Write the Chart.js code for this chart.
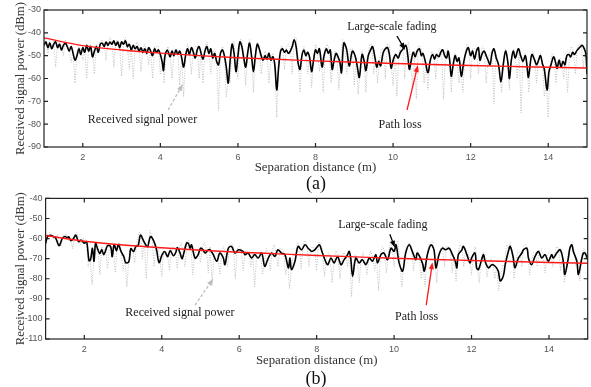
<!DOCTYPE html>
<html><head><meta charset="utf-8">
<script src="https://cdn.jsdelivr.net/npm/chart.js@4.4.1/dist/chart.umd.min.js"></script>
<style>
html,body{margin:0;padding:0;background:#fff;width:591px;height:387px;overflow:hidden;}
#ca{position:absolute;left:0;top:0;}
#cb{position:absolute;left:0;top:190px;}
.lab{position:absolute;font-family:"Liberation Serif","DejaVu Serif",serif;font-size:18px;color:#111;transform:translateX(-50%);line-height:20px;}
</style></head><body>
<canvas id="ca" width="591" height="190"></canvas>
<canvas id="cb" width="591" height="197"></canvas>
<div class="lab" style="left:316px;top:173px">(a)</div>
<div class="lab" style="left:316px;top:368px">(b)</div>
<script>
// ---------- data ----------
const xTicks = [2,4,6,8,10,12,14];
const yTicksA = [-30,-40,-50,-60,-70,-80,-90];
const yTicksB = [-40,-50,-60,-70,-80,-90,-100,-110];

// path loss (red), sampled at each metre
const plDist = [1,2,3,4,5,6,7,8,9,10,11,12,13,14,15];
const pathLossA = [-42.2,-45.6,-47.5,-48.9,-50.0,-50.9,-51.6,-52.3,-52.9,-53.4,-53.9,-54.3,-54.7,-55.1,-55.4];
const pathLossB = [-58.5,-61.3,-63.2,-64.6,-65.8,-66.8,-67.6,-68.4,-69.1,-69.8,-70.4,-70.9,-71.4,-71.9,-72.3];

// large-scale fading (black), [distance, dBm]
const fadingA = [[1.00,-45.5],[1.05,-44.0],[1.10,-46.5],[1.15,-44.5],[1.20,-47.0],[1.25,-45.0],[1.30,-44.0],[1.35,-46.5],[1.40,-45.0],[1.45,-47.5],[1.50,-45.5],[1.55,-44.5],[1.60,-46.0],[1.65,-48.0],[1.70,-46.0],[1.75,-49.0],[1.80,-52.0],[1.85,-50.0],[1.90,-47.0],[1.95,-49.5],[2.00,-46.5],[2.05,-48.5],[2.10,-45.5],[2.15,-48.0],[2.20,-46.0],[2.25,-50.5],[2.30,-48.0],[2.35,-46.0],[2.40,-48.5],[2.45,-45.0],[2.50,-44.5],[2.55,-46.0],[2.60,-44.0],[2.65,-45.5],[2.70,-44.0],[2.75,-45.0],[2.80,-43.5],[2.85,-45.5],[2.90,-44.0],[2.95,-46.5],[3.00,-44.0],[3.05,-45.0],[3.10,-43.5],[3.15,-46.0],[3.20,-45.0],[3.25,-47.5],[3.30,-45.5],[3.35,-47.0],[3.40,-46.0],[3.45,-48.0],[3.50,-46.5],[3.55,-48.5],[3.60,-47.0],[3.65,-49.0],[3.70,-46.5],[3.75,-48.0],[3.80,-50.0],[3.85,-47.0],[3.90,-48.5],[3.95,-47.5],[4.00,-49.5],[4.05,-53.0],[4.08,-56.5],[4.12,-50.0],[4.18,-47.5],[4.25,-50.5],[4.30,-48.0],[4.35,-50.0],[4.40,-47.5],[4.45,-49.5],[4.50,-48.0],[4.55,-51.0],[4.60,-55.0],[4.65,-50.0],[4.70,-47.0],[4.75,-49.5],[4.80,-46.5],[4.85,-48.5],[4.90,-51.0],[4.95,-47.5],[5.00,-46.0],[5.05,-49.0],[5.10,-51.5],[5.15,-48.0],[5.20,-46.0],[5.25,-49.0],[5.30,-47.0],[5.35,-51.0],[5.40,-49.0],[5.45,-52.5],[5.50,-54.0],[5.55,-49.0],[5.60,-47.5],[5.65,-50.0],[5.70,-55.0],[5.75,-62.0],[5.80,-52.0],[5.85,-45.0],[5.90,-49.0],[5.95,-57.0],[6.00,-50.0],[6.05,-44.0],[6.10,-46.0],[6.15,-51.0],[6.20,-55.0],[6.25,-49.0],[6.30,-44.5],[6.35,-50.0],[6.40,-57.0],[6.45,-50.0],[6.50,-45.0],[6.55,-47.0],[6.60,-50.0],[6.65,-52.0],[6.70,-50.0],[6.75,-51.5],[6.80,-49.0],[6.85,-52.0],[6.90,-50.5],[6.95,-54.0],[7.00,-65.0],[7.05,-55.0],[7.10,-48.0],[7.15,-47.0],[7.20,-48.5],[7.25,-47.5],[7.30,-49.0],[7.35,-48.0],[7.40,-46.0],[7.45,-43.0],[7.50,-46.0],[7.55,-53.0],[7.60,-56.0],[7.65,-50.0],[7.70,-47.5],[7.75,-50.0],[7.80,-48.5],[7.85,-51.0],[7.90,-57.0],[7.95,-52.0],[8.00,-47.5],[8.05,-49.0],[8.10,-47.0],[8.17,-55.0],[8.22,-50.0],[8.28,-47.0],[8.33,-49.0],[8.38,-47.5],[8.43,-56.0],[8.48,-52.0],[8.53,-49.0],[8.58,-50.5],[8.63,-53.0],[8.67,-57.5],[8.73,-44.5],[8.80,-47.0],[8.87,-54.5],[8.95,-48.0],[9.02,-50.0],[9.08,-55.0],[9.13,-59.5],[9.20,-49.5],[9.25,-52.0],[9.30,-56.5],[9.36,-50.0],[9.42,-47.5],[9.47,-46.0],[9.53,-50.5],[9.58,-55.0],[9.63,-52.5],[9.68,-54.5],[9.74,-49.0],[9.80,-47.0],[9.86,-46.5],[9.91,-50.0],[9.95,-55.5],[10.01,-51.5],[10.07,-49.5],[10.13,-51.0],[10.19,-48.5],[10.26,-47.0],[10.33,-45.5],[10.38,-50.0],[10.42,-56.0],[10.47,-52.0],[10.52,-48.5],[10.57,-50.5],[10.62,-48.0],[10.68,-47.0],[10.73,-50.0],[10.77,-49.0],[10.83,-52.5],[10.90,-57.5],[10.96,-52.0],[11.02,-49.5],[11.07,-51.5],[11.12,-49.5],[11.18,-50.5],[11.23,-48.5],[11.28,-47.5],[11.33,-50.0],[11.38,-51.0],[11.42,-48.0],[11.46,-52.0],[11.50,-59.0],[11.55,-54.0],[11.60,-50.0],[11.65,-52.5],[11.70,-51.0],[11.76,-59.0],[11.82,-53.0],[11.88,-48.5],[11.94,-46.5],[12.00,-50.0],[12.05,-48.0],[12.10,-51.5],[12.15,-48.0],[12.20,-46.5],[12.24,-52.0],[12.30,-49.0],[12.35,-48.0],[12.40,-50.0],[12.45,-52.0],[12.50,-54.0],[12.55,-49.0],[12.60,-47.0],[12.66,-51.0],[12.72,-54.0],[12.78,-61.5],[12.84,-54.0],[12.90,-48.0],[12.96,-53.0],[13.00,-60.0],[13.05,-52.0],[13.10,-48.0],[13.15,-51.0],[13.23,-47.0],[13.29,-50.0],[13.35,-52.5],[13.41,-50.0],[13.45,-54.0],[13.49,-59.5],[13.54,-53.0],[13.58,-49.5],[13.64,-51.5],[13.70,-54.0],[13.75,-52.0],[13.80,-50.0],[13.85,-53.5],[13.90,-56.0],[13.97,-65.0],[14.02,-57.0],[14.08,-53.5],[14.14,-50.5],[14.19,-53.0],[14.23,-55.5],[14.28,-52.0],[14.33,-55.0],[14.38,-52.5],[14.43,-54.0],[14.48,-50.0],[14.53,-49.5],[14.58,-50.5],[14.63,-48.5],[14.68,-49.5],[14.73,-48.0],[14.78,-47.0],[14.83,-46.0],[14.88,-45.5],[14.93,-47.0],[14.97,-49.0],[15.00,-58.0]];

const fadingB = [[1.00,-62.5],[1.05,-59.0],[1.12,-58.4],[1.20,-59.0],[1.26,-59.8],[1.35,-63.5],[1.43,-60.0],[1.50,-59.0],[1.56,-59.5],[1.60,-59.2],[1.65,-61.0],[1.72,-60.0],[1.78,-58.3],[1.85,-61.5],[1.92,-60.8],[2.00,-62.3],[2.06,-61.5],[2.12,-71.0],[2.16,-70.5],[2.21,-64.8],[2.25,-71.3],[2.29,-62.3],[2.34,-65.0],[2.40,-67.5],[2.45,-65.5],[2.50,-68.0],[2.55,-66.0],[2.60,-63.5],[2.68,-64.0],[2.72,-69.0],[2.77,-63.0],[2.83,-66.0],[2.88,-63.0],[2.95,-66.5],[3.02,-69.0],[3.07,-72.0],[3.15,-71.5],[3.20,-65.0],[3.27,-66.5],[3.33,-64.0],[3.39,-63.5],[3.45,-58.3],[3.54,-61.5],[3.63,-64.0],[3.71,-59.0],[3.80,-61.5],[3.87,-66.0],[3.93,-72.0],[4.01,-68.0],[4.08,-66.5],[4.15,-69.0],[4.22,-66.0],[4.30,-68.5],[4.36,-67.0],[4.40,-64.5],[4.47,-67.0],[4.52,-70.0],[4.56,-68.0],[4.64,-62.3],[4.69,-62.5],[4.73,-64.8],[4.77,-63.1],[4.86,-69.7],[4.94,-68.0],[5.00,-64.8],[5.06,-65.5],[5.12,-67.2],[5.20,-65.6],[5.25,-65.6],[5.33,-68.0],[5.42,-71.3],[5.50,-67.2],[5.59,-69.7],[5.63,-73.0],[5.72,-64.8],[5.80,-63.9],[5.89,-67.2],[5.98,-65.6],[6.10,-66.4],[6.15,-68.0],[6.23,-67.2],[6.32,-69.7],[6.40,-68.0],[6.49,-69.7],[6.58,-67.2],[6.66,-73.8],[6.75,-69.7],[6.84,-67.2],[6.92,-68.9],[7.00,-65.6],[7.09,-67.2],[7.18,-68.0],[7.27,-74.6],[7.31,-69.7],[7.35,-75.4],[7.44,-71.3],[7.52,-63.9],[7.61,-65.6],[7.70,-63.1],[7.78,-64.8],[7.87,-66.4],[7.95,-65.6],[8.07,-63.1],[8.11,-64.8],[8.15,-67.2],[8.28,-73.0],[8.37,-69.7],[8.45,-72.1],[8.54,-68.9],[8.63,-73.0],[8.71,-70.5],[8.80,-68.0],[8.84,-66.4],[8.88,-69.7],[8.93,-78.7],[9.01,-69.7],[9.10,-72.1],[9.18,-70.5],[9.27,-73.0],[9.36,-69.7],[9.44,-71.3],[9.53,-68.0],[9.57,-72.1],[9.66,-68.0],[9.74,-67.2],[9.83,-70.5],[9.92,-64.8],[10.00,-66.4],[10.05,-63.1],[10.13,-72.1],[10.22,-76.2],[10.30,-67.2],[10.39,-63.1],[10.47,-66.4],[10.56,-70.5],[10.60,-67.2],[10.73,-72.1],[10.78,-76.2],[10.86,-68.0],[10.95,-63.1],[11.03,-65.6],[11.08,-74.6],[11.16,-68.0],[11.25,-64.8],[11.33,-65.6],[11.42,-64.8],[11.49,-67.2],[11.58,-71.3],[11.62,-74.6],[11.66,-68.0],[11.75,-65.6],[11.79,-63.9],[11.88,-68.0],[11.96,-72.1],[12.00,-69.7],[12.09,-67.2],[12.13,-74.6],[12.18,-75.4],[12.26,-70.5],[12.31,-68.0],[12.35,-71.3],[12.44,-74.6],[12.52,-73.0],[12.61,-73.8],[12.69,-76.2],[12.74,-81.1],[12.82,-78.7],[12.87,-73.0],[12.95,-66.4],[13.00,-63.9],[13.08,-69.7],[13.12,-74.6],[13.21,-69.7],[13.30,-67.2],[13.34,-65.6],[13.43,-64.8],[13.47,-69.7],[13.55,-73.0],[13.64,-68.9],[13.73,-66.4],[13.81,-69.7],[13.90,-68.0],[13.98,-71.3],[14.07,-68.0],[14.11,-69.7],[14.20,-67.2],[14.29,-65.6],[14.37,-71.3],[14.41,-77.9],[14.50,-69.7],[14.54,-64.8],[14.59,-63.1],[14.63,-66.4],[14.72,-71.3],[14.76,-77.9],[14.85,-69.7],[14.89,-67.2],[14.93,-67.2],[15.00,-70.5]];

// received signal power (grey dotted): samples at whole tenths and at the half-tenths between them
const rxDist = [1.0,1.1,1.2,1.3,1.4,1.5,1.6,1.7,1.8,1.9,2.0,2.1,2.2,2.3,2.4,2.5,2.6,2.7,2.8,2.9,3.0,3.1,3.2,3.3,3.4,3.5,3.6,3.7,3.8,3.9,4.0,4.1,4.2,4.3,4.4,4.5,4.6,4.7,4.8,4.9,5.0,5.1,5.2,5.3,5.4,5.5,5.6,5.7,5.8,5.9,6.0,6.1,6.2,6.3,6.4,6.5,6.6,6.7,6.8,6.9,7.0,7.1,7.2,7.3,7.4,7.5,7.6,7.7,7.8,7.9,8.0,8.1,8.2,8.3,8.4,8.5,8.6,8.7,8.8,8.9,9.0,9.1,9.2,9.3,9.4,9.5,9.6,9.7,9.8,9.9,10.0,10.1,10.2,10.3,10.4,10.5,10.6,10.7,10.8,10.9,11.0,11.1,11.2,11.3,11.4,11.5,11.6,11.7,11.8,11.9,12.0,12.1,12.2,12.3,12.4,12.5,12.6,12.7,12.8,12.9,13.0,13.1,13.2,13.3,13.4,13.5,13.6,13.7,13.8,13.9,14.0,14.1,14.2,14.3,14.4,14.5,14.6,14.7,14.8,14.9,15.0];
const rxDistMid = [1.05,1.15,1.25,1.35,1.45,1.55,1.65,1.75,1.85,1.95,2.05,2.15,2.25,2.35,2.45,2.55,2.65,2.75,2.85,2.95,3.05,3.15,3.25,3.35,3.45,3.55,3.65,3.75,3.85,3.95,4.05,4.15,4.25,4.35,4.45,4.55,4.65,4.75,4.85,4.95,5.05,5.15,5.25,5.35,5.45,5.55,5.65,5.75,5.85,5.95,6.05,6.15,6.25,6.35,6.45,6.55,6.65,6.75,6.85,6.95,7.05,7.15,7.25,7.35,7.45,7.55,7.65,7.75,7.85,7.95,8.05,8.15,8.25,8.35,8.45,8.55,8.65,8.75,8.85,8.95,9.05,9.15,9.25,9.35,9.45,9.55,9.65,9.75,9.85,9.95,10.05,10.15,10.25,10.35,10.45,10.55,10.65,10.75,10.85,10.95,11.05,11.15,11.25,11.35,11.45,11.55,11.65,11.75,11.85,11.95,12.05,12.15,12.25,12.35,12.45,12.55,12.65,12.75,12.85,12.95,13.05,13.15,13.25,13.35,13.45,13.55,13.65,13.75,13.85,13.95,14.05,14.15,14.25,14.35,14.45,14.55,14.65,14.75,14.85,14.95];
const rxPowerA = [-44,-49,-43,-55,-44,-50,-45,-53,-62,-46,-52,-60,-45,-58,-47,-43,-52,-42,-55,-43,-59,-42,-56,-60,-44,-57,-45,-54,-60,-46,-58,-62,-46,-60,-47,-63,-68,-45,-58,-46,-60,-62,-44,-58,-47,-74,-46,-68,-62,-44,-60,-43,-63,-43,-66,-44,-58,-48,-62,-49,-77,-46,-56,-45,-58,-42,-66,-46,-58,-64,-45,-57,-66,-45,-62,-48,-65,-43,-58,-47,-63,-67,-48,-66,-45,-58,-62,-47,-60,-45,-63,-68,-46,-60,-44,-64,-69,-46,-62,-65,-48,-60,-47,-69,-47,-66,-49,-62,-66,-45,-60,-47,-58,-46,-62,-49,-71,-52,-66,-47,-65,-47,-60,-75,-49,-66,-48,-62,-49,-68,-77,-49,-62,-51,-60,-66,-46,-58,-45,-55,-47];
const rxPowerAMid = [-43,-43,-44,-45,-46,-43,-47,-48,-49,-48,-47,-47,-49,-45,-44,-45,-44,-44,-44,-45,-44,-45,-46,-46,-47,-47,-48,-47,-46,-46,-52,-48,-49,-49,-48,-50,-49,-48,-47,-46,-48,-47,-48,-50,-51,-48,-49,-60,-44,-55,-43,-50,-48,-49,-49,-46,-51,-50,-51,-53,-54,-46,-46,-47,-42,-52,-49,-49,-50,-51,-48,-52,-47,-47,-53,-49,-54,-44,-51,-47,-51,-56,-51,-50,-45,-51,-52,-47,-45,-54,-49,-49,-46,-46,-53,-48,-46,-48,-53,-52,-49,-49,-47,-49,-50,-53,-51,-56,-50,-46,-47,-47,-50,-47,-51,-48,-49,-57,-52,-51,-51,-50,-47,-51,-53,-51,-51,-51,-52,-61,-54,-50,-53,-53,-51,-49,-48,-46,-45,-47];
const rxPowerB = [-62,-57,-60,-58,-64,-58,-61,-65,-57,-63,-60,-74,-83,-62,-78,-66,-75,-63,-77,-62,-76,-84,-66,-72,-57,-70,-80,-56,-74,-65,-79,-68,-76,-64,-75,-62,-74,-61,-78,-65,-72,-62,-77,-83,-66,-78,-64,-74,-62,-80,-64,-76,-66,-74,-84,-67,-78,-65,-76,-63,-74,-65,-78,-85,-68,-62,-75,-61,-74,-64,-76,-62,-79,-67,-82,-66,-80,-67,-74,-89,-68,-82,-67,-78,-66,-76,-86,-64,-77,-62,-74,-61,-84,-65,-62,-76,-66,-80,-84,-63,-61,-82,-65,-74,-64,-77,-81,-63,-74,-66,-78,-64,-82,-67,-79,-70,-80,-86,-73,-63,-62,-80,-66,-74,-63,-78,-67,-74,-65,-77,-67,-74,-64,-76,-82,-67,-62,-74,-81,-65,-68];
const rxPowerBMid = [-58,-58,-59,-62,-59,-58,-60,-58,-60,-60,-61,-69,-70,-64,-64,-65,-63,-65,-64,-65,-70,-70,-65,-63,-57,-61,-62,-59,-64,-70,-66,-68,-66,-66,-65,-67,-61,-63,-68,-66,-64,-65,-64,-68,-69,-67,-70,-63,-64,-65,-65,-67,-67,-68,-68,-67,-72,-69,-66,-67,-65,-67,-72,-74,-69,-63,-63,-63,-65,-65,-62,-66,-70,-69,-71,-68,-71,-68,-66,-73,-70,-70,-71,-69,-70,-69,-67,-66,-68,-64,-62,-72,-72,-64,-64,-69,-68,-73,-68,-62,-68,-68,-64,-64,-65,-69,-68,-64,-65,-70,-67,-74,-70,-70,-73,-72,-74,-79,-74,-65,-66,-71,-67,-64,-66,-72,-67,-66,-68,-69,-68,-67,-65,-69,-73,-63,-66,-75,-68,-67];

// ---------- drawing ----------
const pairs = a => a.map(p => ({x:p[0], y:p[1]}));
const zip = (xs, ys) => xs.map((x,i) => ({x:x, y:ys[i]}));
const merge = (a, b) => a.concat(b).sort((p, q) => p.x - q.x);

const framePlugin = {
  id:'frame',
  afterDatasetsDraw(chart, args, opts){
    const {ctx, chartArea:a, scales:{x, y}} = chart;
    ctx.save();
    (opts.arrows||[]).forEach(ar => {
      const x1 = x.getPixelForValue(ar.x1), y1 = y.getPixelForValue(ar.y1);
      const x2 = x.getPixelForValue(ar.x2), y2 = y.getPixelForValue(ar.y2);
      const ang = Math.atan2(y2-y1, x2-x1), hl = 7, hw = 2.6;
      ctx.strokeStyle = ar.color; ctx.fillStyle = ar.color; ctx.lineWidth = ar.width||1.3;
      ctx.setLineDash(ar.dash||[]);
      ctx.beginPath(); ctx.moveTo(x1,y1);
      ctx.lineTo(x2 - Math.cos(ang)*hl*0.8, y2 - Math.sin(ang)*hl*0.8); ctx.stroke();
      ctx.setLineDash([]);
      ctx.beginPath(); ctx.moveTo(x2,y2);
      ctx.lineTo(x2 - Math.cos(ang)*hl - Math.sin(ang)*hw, y2 - Math.sin(ang)*hl + Math.cos(ang)*hw);
      ctx.lineTo(x2 - Math.cos(ang)*hl + Math.sin(ang)*hw, y2 - Math.sin(ang)*hl - Math.cos(ang)*hw);
      ctx.closePath(); ctx.fill();
    });
    ctx.font = '12px "Liberation Serif", "DejaVu Serif", serif';
    ctx.textAlign = 'center'; ctx.textBaseline = 'middle';
    (opts.notes||[]).forEach(n => {
      ctx.fillStyle = n.color || '#222';
      ctx.fillText(n.text, x.getPixelForValue(n.x), y.getPixelForValue(n.y));
    });
    ctx.strokeStyle = '#222'; ctx.lineWidth = 1.2;
    ctx.strokeRect(a.left, a.top, a.right - a.left, a.bottom - a.top);
    ctx.beginPath();
    x.ticks.forEach(t => {
      const px = x.getPixelForValue(t.value);
      ctx.moveTo(px, a.bottom); ctx.lineTo(px, a.bottom - 4);
      ctx.moveTo(px, a.top); ctx.lineTo(px, a.top + 4);
    });
    y.ticks.forEach(t => {
      const py = y.getPixelForValue(t.value);
      ctx.moveTo(a.left, py); ctx.lineTo(a.left + 4, py);
      ctx.moveTo(a.right, py); ctx.lineTo(a.right - 4, py);
    });
    ctx.stroke();
    ctx.restore();
  }
};

function makeChart(id, c){
  return new Chart(document.getElementById(id), {
    type:'line',
    data:{datasets:[
      {label:'Path loss', data: zip(plDist, c.pl), borderColor:'#ff1a1a', borderWidth:1.4, pointRadius:0, cubicInterpolationMode:'monotone'},
      {label:'Large-scale fading', data: pairs(c.fading), borderColor:'#000', borderWidth:1.6, pointRadius:0, tension:0.35},
      {label:'Received signal power', data: merge(zip(rxDist, c.rx), zip(rxDistMid, c.rxMid)), borderColor:'#b9b9b9', borderWidth:0.9, borderDash:[1,1.5], pointRadius:0, tension:0}
    ]},
    options:{
      responsive:false, animation:false, devicePixelRatio:1,
      layout:{padding:{top:c.top, right:c.right, left:0, bottom:0}},
      plugins:{legend:{display:false}, tooltip:{enabled:false}, frame:{arrows:c.arrows, notes:c.notes}},
      scales:{
        x:{type:'linear', min:1, max:15,
           afterBuildTicks: s => { s.ticks = xTicks.map(v => ({value:v})); },
           afterFit: s => { s.height = c.xh; },
           grid:{display:false, drawTicks:false}, border:{display:false},
           ticks:{padding:5, font:{family:'"Liberation Sans", Arial, sans-serif', size:9}, color:'#555'},
           title:{display:true, text:'Separation distance (m)', color:'#333',
                  font:{family:'"Liberation Serif", "DejaVu Serif", serif', size:12.8}, padding:{top:0, bottom:c.xtp}}},
        y:{type:'linear', min:c.ymin, max:c.ymax,
           afterBuildTicks: s => { s.ticks = c.yTicks.map(v => ({value:v})); },
           afterFit: s => { s.width = c.yw; },
           grid:{display:false, drawTicks:false}, border:{display:false},
           ticks:{padding:3, font:{family:'"Liberation Sans", Arial, sans-serif', size:9}, color:'#555'},
           title:{display:true, text:'Received signal power (dBm)', color:'#333',
                  font:{family:'"Liberation Serif", "DejaVu Serif", serif', size:12.8}, padding:{top:12.5, bottom:0}}}
      }
    },
    plugins:[framePlugin]
  });
}

makeChart('ca', {
  pl: pathLossA, fading: fadingA, rx: rxPowerA, rxMid: rxPowerAMid, yTicks: yTicksA, ymin:-90, ymax:-30,
  top:10, right:4, xh:43, yw:44, xtp:14.5,
  notes:[{text:'Received signal power', x:3.54, y:-78.2},
         {text:'Large-scale fading', x:9.97, y:-37.4},
         {text:'Path loss', x:10.18, y:-80.4}],
  arrows:[{x1:4.2, y1:-73.8, x2:4.58, y2:-62.4, color:'#bdbdbd', dash:[3,2]},
          {x1:10.1, y1:-41.4, x2:10.31, y2:-47.5, color:'#000'},
          {x1:10.36, y1:-73.8, x2:10.64, y2:-54.1, color:'#ff1a1a'}]
});
makeChart('cb', {
  pl: pathLossB, fading: fadingB, rx: rxPowerB, rxMid: rxPowerBMid, yTicks: yTicksB, ymin:-110, ymax:-40,
  top:6.7, right:3.3, xh:48, yw:45.6, xtp:18.5,
  notes:[{text:'Received signal power', x:4.47, y:-97.1},
         {text:'Large-scale fading', x:9.71, y:-53},
         {text:'Path loss', x:10.58, y:-98.8}],
  arrows:[{x1:4.86, y1:-93.1, x2:5.33, y2:-80, color:'#bdbdbd', dash:[3,2]},
          {x1:9.89, y1:-57.9, x2:10.02, y2:-64.5, color:'#000'},
          {x1:10.83, y1:-93.1, x2:10.99, y2:-71.8, color:'#ff1a1a'}]
});
</script></body></html>
